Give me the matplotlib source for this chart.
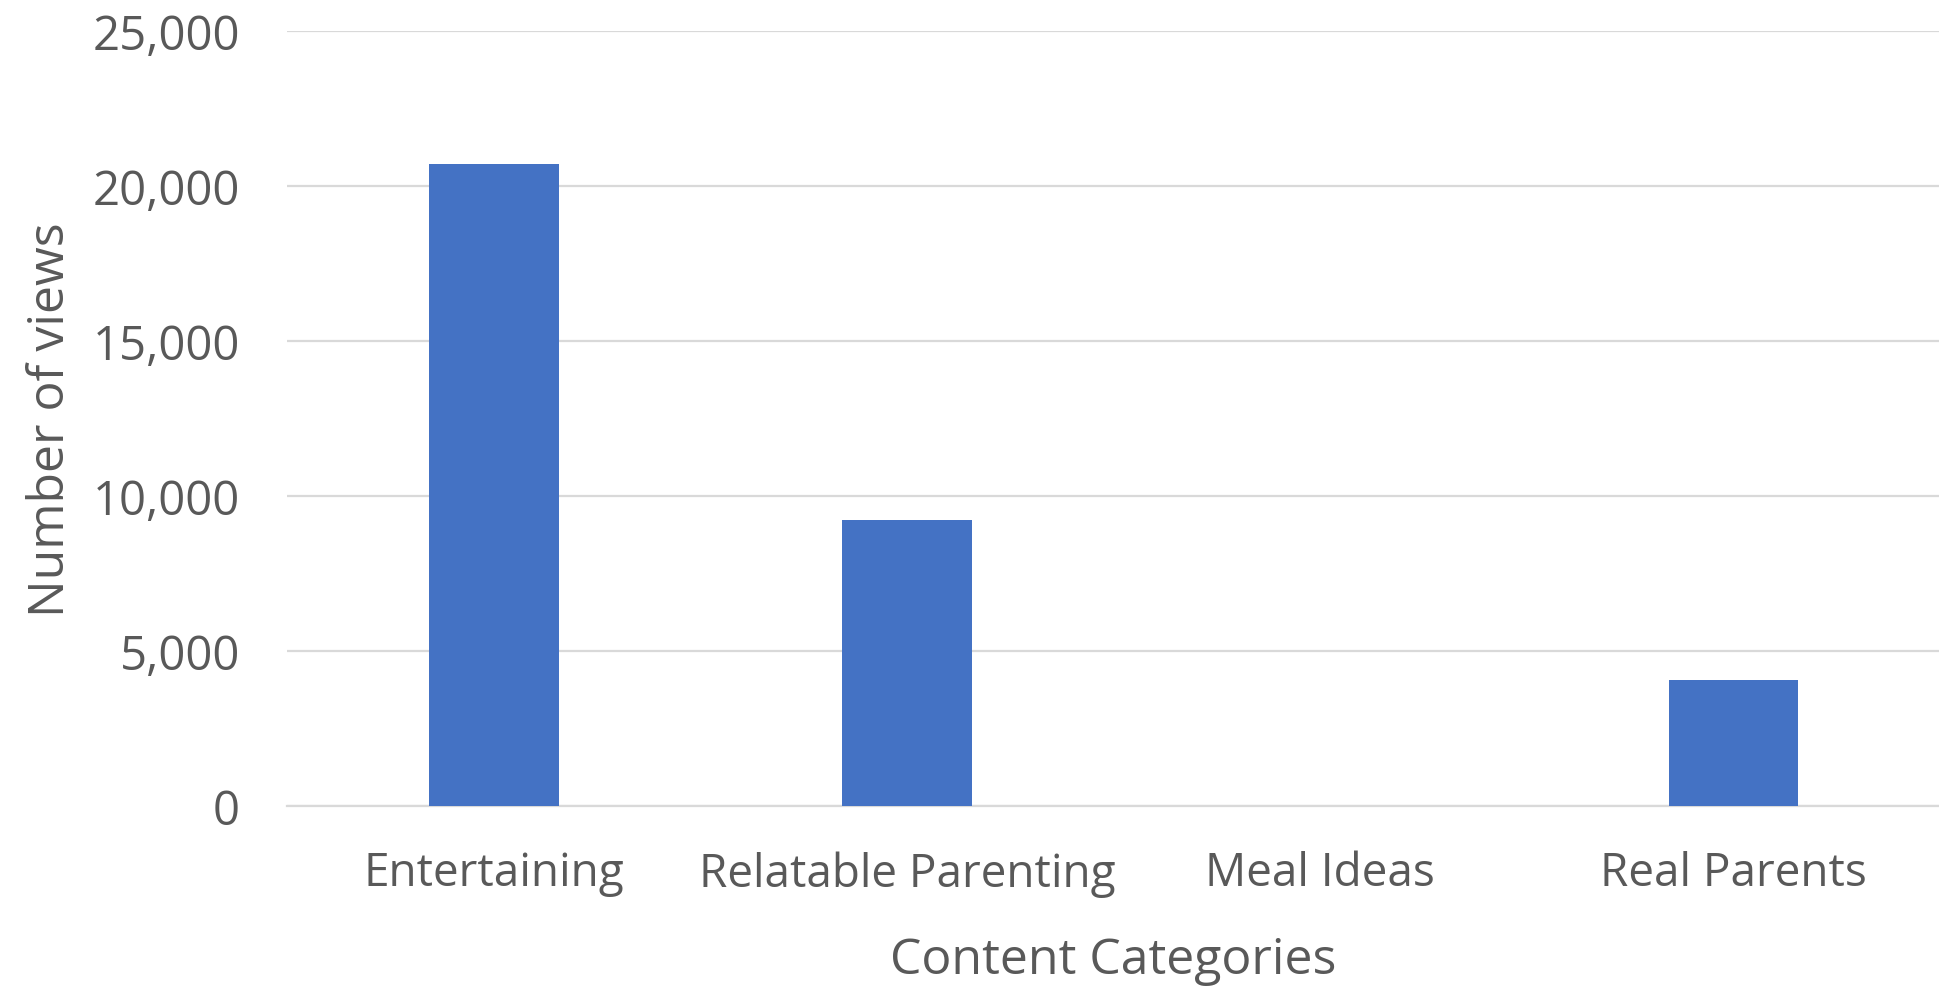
import matplotlib
matplotlib.use("Agg")
import matplotlib.pyplot as plt
from matplotlib.ticker import FuncFormatter

# ------------------ DATA ------------------
categories = ["Entertaining", "Relatable Parenting", "Meal Ideas", "Real Parents"]
views = [20700, 9230, 0, 4070]
y_ticks = [0, 5000, 10000, 15000, 20000, 25000]

# ------------------ STYLE ------------------
plt.rcParams['font.family'] = ['Open Sans', 'DejaVu Sans']
TEXT_COLOR = "#595959"
BAR_COLOR = "#4472C4"
GRID_COLOR = "#d9d9d9"

fig = plt.figure(figsize=(19.4, 9.87), dpi=100)
ax = fig.add_axes([0.148, 0.1824, 0.852, 0.7852])

x = list(range(len(categories)))
ax.bar(x, views, width=0.314, color=BAR_COLOR, zorder=3)

ax.set_xlim(-0.5, len(categories) - 0.5)
ax.set_ylim(0, 25000)
ax.set_yticks(y_ticks)
ax.yaxis.set_major_formatter(FuncFormatter(lambda v, p: f"{int(v):,}"))
ax.set_xticks(x)
ax.set_xticklabels(categories)

ax.grid(axis='y', color=GRID_COLOR, linewidth=1.6, zorder=0)
ax.set_axisbelow(True)
for side in ['top', 'right', 'left']:
    ax.spines[side].set_visible(False)
ax.spines['bottom'].set_color(GRID_COLOR)
ax.spines['bottom'].set_linewidth(1.6)
ax.tick_params(axis='y', length=0, colors=TEXT_COLOR, labelsize=34, pad=34)
ax.tick_params(axis='x', length=0, colors=TEXT_COLOR, labelsize=33, pad=32)

ax.set_xlabel("Content Categories", fontsize=36, color=TEXT_COLOR, labelpad=28)
ax.set_ylabel("Number of views", fontsize=36, color=TEXT_COLOR, labelpad=12)

fig.savefig("out.png", dpi=100)
